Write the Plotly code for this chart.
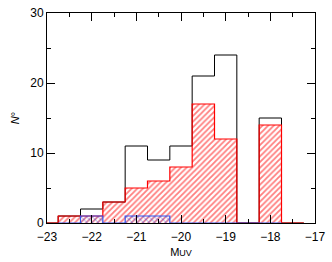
import plotly.graph_objects as go

# Histogram data (bins of width 0.5 in M_UV)
bin_edges = [-23.25, -22.75, -22.25, -21.75, -21.25, -20.75, -20.25,
             -19.75, -19.25, -18.75, -18.25, -17.75, -17.25]
black_counts = [0, 1, 2, 3, 11, 9, 11, 21, 24, 0, 15, 0]
red_counts = [0, 1, 1, 3, 5, 6, 8, 17, 12, 0, 14, 0]
blue_counts = [0, 0, 1, 0, 1, 1, 0, 0, 0, 0, 0, 0]

centers = [(a + b) / 2 for a, b in zip(bin_edges[:-1], bin_edges[1:])]
widths = [b - a for a, b in zip(bin_edges[:-1], bin_edges[1:])]


def step(counts, lo=0, hi=None):
    hi = len(counts) if hi is None else hi
    xs, ys = [bin_edges[lo]], [0]
    for i in range(lo, hi):
        xs += [bin_edges[i], bin_edges[i + 1]]
        ys += [counts[i], counts[i]]
    xs.append(bin_edges[hi])
    ys.append(0)
    return xs, ys


fig = go.Figure()

bx, by = step(black_counts)
fig.add_trace(go.Scatter(x=bx, y=by, mode="lines",
                         line=dict(color="black", width=1), hoverinfo="skip"))

fig.add_trace(go.Bar(x=centers, y=red_counts, width=widths,
                     marker=dict(color="rgba(0,0,0,0)", line=dict(width=0),
                                 pattern=dict(shape="/", fgcolor="red", bgcolor="white",
                                              size=4, solidity=0.45))))
rx, ry = step(red_counts)
fig.add_trace(go.Scatter(x=rx, y=ry, mode="lines",
                         line=dict(color="red", width=1.2), hoverinfo="skip"))

fig.add_trace(go.Bar(x=centers, y=blue_counts, width=widths,
                     marker=dict(color="rgba(0,0,0,0)", line=dict(width=0),
                                 pattern=dict(shape="x", fgcolor="#3355ee", bgcolor="rgba(0,0,0,0)",
                                              size=4, solidity=0.4))))
ux, uy = step(blue_counts, 1, 11)
fig.add_trace(go.Scatter(x=ux, y=uy, mode="lines",
                         line=dict(color="#3355ee", width=1.2), hoverinfo="skip"))

axis_common = dict(showline=True, linecolor="black", linewidth=1, mirror="allticks",
                   ticks="inside", tickcolor="black", ticklen=8, tickwidth=1,
                   showgrid=False, zeroline=False,
                   tickfont=dict(family="Liberation Sans, Arial", size=12, color="black"))

fig.update_layout(
    width=332, height=262,
    margin=dict(l=47, r=13, t=6, b=39),
    paper_bgcolor="white", plot_bgcolor="white",
    showlegend=False, barmode="overlay", bargap=0,
    xaxis=dict(range=[-23, -17], dtick=1, tick0=-23, ticklabelstandoff=3,
               minor=dict(dtick=0.5, ticks="inside", ticklen=4, tickcolor="black"),
               title=dict(text="M<span style='font-size:9px'>UV</span>", standoff=4,
                          font=dict(family="Liberation Sans, Arial", size=11, color="black")),
               **axis_common),
    yaxis=dict(range=[0, 30], dtick=10,
               minor=dict(dtick=5, ticks="inside", ticklen=4, tickcolor="black"),
               title=dict(text="<i>N</i>°", standoff=8,
                          font=dict(family="Liberation Sans, Arial", size=11, color="black")),
               **axis_common),
)

fig.write_html("out.html", config={"displayModeBar": False},
               post_script="document.body.style.margin='0';")
